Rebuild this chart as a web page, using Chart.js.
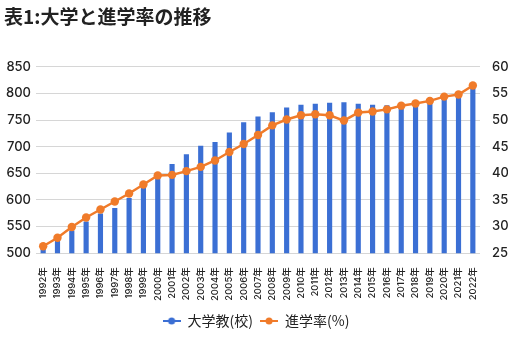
<!DOCTYPE html>
<html>
<head>
<meta charset="utf-8">
<script src="https://cdn.jsdelivr.net/npm/chart.js@4"></script>
<style>
  html, body { margin: 0; padding: 0; background: #fff; }
  #wrap { width: 512px; height: 354px; }
</style>
</head>
<body>
<div id="wrap"><canvas id="chart" width="512" height="354"></canvas></div>
<script>
  // 年度
  const years = ['1992年', '1993年', '1994年', '1995年', '1996年', '1997年', '1998年', '1999年',
    '2000年', '2001年', '2002年', '2003年', '2004年', '2005年', '2006年', '2007年', '2008年',
    '2009年', '2010年', '2011年', '2012年', '2013年', '2014年', '2015年', '2016年', '2017年',
    '2018年', '2019年', '2020年', '2021年', '2022年'];
  // 大学数（校）
  const schools = [507, 523, 542, 559, 574, 584, 603, 622, 640, 667, 685, 701, 708, 726, 745, 756,
    764, 773, 778, 780, 782, 783, 780, 778, 777, 780, 782, 786, 795, 803, 808];
  // 進学率（%）
  const rate = [26.3, 27.9, 29.9, 31.7, 33.2, 34.7, 36.2, 37.9, 39.6, 39.7, 40.4, 41.2, 42.4, 44.0,
    45.5, 47.2, 49.0, 50.1, 50.9, 51.1, 50.9, 49.9, 51.4, 51.6, 52.0, 52.7, 53.1, 53.6, 54.4, 54.8, 56.5];

  const blue = '#3b6fd4';
  const orange = '#f07b2a';
  const font = "Inter, 'Noto Sans CJK JP', sans-serif";

  // legend marker: line with dot
  function marker(color) {
    const c = document.createElement('canvas');
    c.width = 18; c.height = 8;
    const g = c.getContext('2d');
    g.strokeStyle = color; g.lineWidth = 2;
    g.beginPath(); g.moveTo(0, 4); g.lineTo(18, 4); g.stroke();
    g.fillStyle = color;
    g.beginPath(); g.arc(9, 4, 3.5, 0, Math.PI * 2); g.fill();
    return c;
  }
  const markers = [marker(blue), marker(orange)];

  new Chart(document.getElementById('chart'), {
    data: {
      labels: years,
      datasets: [{
        type: 'bar',
        label: '大学教(校)',
        data: schools,
        backgroundColor: blue,
        barThickness: 4.5,
        yAxisID: 'y',
        order: 2
      }, {
        type: 'line',
        label: '進学率(%)',
        data: rate,
        borderColor: orange,
        backgroundColor: orange,
        borderWidth: 2.5,
        pointRadius: 4.2,
        pointBorderWidth: 0,
        pointBackgroundColor: orange,
        tension: 0,
        yAxisID: 'y1',
        order: 1
      }]
    },
    options: {
      responsive: false,
      animation: false,
      layout: { padding: { left: 4, right: 4, top: 3, bottom: 16 } },
      plugins: {
        title: {
          display: true,
          text: '表1:大学と進学率の推移',
          align: 'start',
          color: '#222',
          font: { family: "'Noto Sans CJK JP', sans-serif", size: 19, weight: 'bold' },
          padding: { top: 2, bottom: 39 }
        },
        legend: {
          position: 'bottom',
          labels: {
            usePointStyle: true,
            pointStyleWidth: 18,
            color: '#222',
            font: { family: "'Noto Sans CJK JP', sans-serif", size: 14 },
            padding: 7,
            sort: (a, b) => a.datasetIndex - b.datasetIndex,
            generateLabels: (chart) => chart.data.datasets.map((ds, i) => ({
              text: ds.label,
              pointStyle: markers[i],
              fillStyle: ds.backgroundColor,
              strokeStyle: ds.backgroundColor,
              lineWidth: 0,
              datasetIndex: i,
              fontColor: '#222'
            }))
          }
        },
        tooltip: { enabled: false }
      },
      scales: {
        x: {
          grid: { display: false },
          border: { display: false },
          afterFit: (scale) => { scale.paddingRight = 0; scale.paddingLeft = 0; },
          ticks: {
            minRotation: 90, maxRotation: 90, autoSkip: false,
            color: '#222', padding: 6,
            font: { family: font, size: 9.5, weight: '500' }
          }
        },
        y: {
          position: 'left',
          min: 500, max: 850,
          afterFit: (scale) => { scale.width = 32; },
          ticks: { stepSize: 50, color: '#222', padding: 5, font: { family: font, size: 13, weight: '500' } },
          grid: { color: '#d6d6d6', drawTicks: false },
          border: { display: false }
        },
        y1: {
          position: 'right',
          min: 25, max: 60,
          afterFit: (scale) => { scale.width = 28; },
          ticks: { stepSize: 5, color: '#222', padding: 12, font: { family: font, size: 13, weight: '500' } },
          grid: { display: false, drawTicks: false },
          border: { display: false }
        }
      }
    }
  });
</script>
</body>
</html>
